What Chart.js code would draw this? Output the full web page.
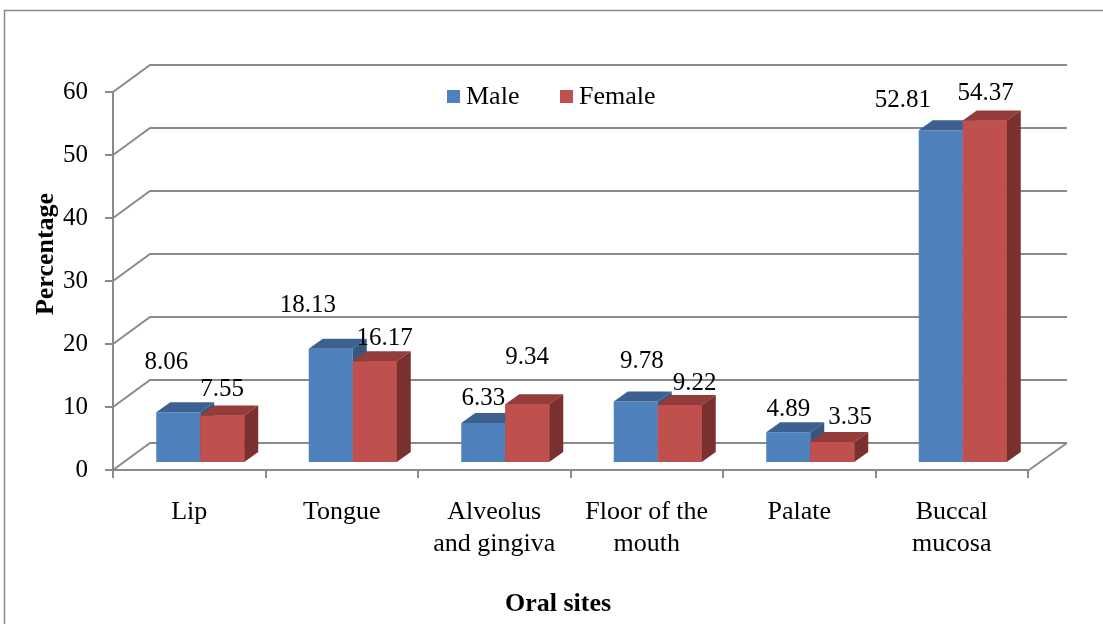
<!DOCTYPE html>
<html>
<head>
<meta charset="utf-8">
<script src="https://cdn.jsdelivr.net/npm/chart.js@4.4.1/dist/chart.umd.min.js"></script>
<style>
  html, body { margin: 0; padding: 0; background: #ffffff; overflow: hidden; }
  #wrap { width: 1103px; height: 624px; position: relative; }
</style>
</head>
<body>
<div id="wrap"><canvas id="c" width="1103" height="624"></canvas></div>
<script>
// ---- data ----
const categories = ['Lip', 'Tongue', ['Alveolus', 'and gingiva'], ['Floor of the', 'mouth'], 'Palate', ['Buccal', 'mucosa']];
const seriesNames = ['Male', 'Female'];
const maleValues = [8.06, 18.13, 6.33, 9.78, 4.89, 52.81];
const femaleValues = [7.55, 16.17, 9.34, 9.22, 3.35, 54.37];
const yTickValues = [0, 10, 20, 30, 40, 50, 60];
const yAxisTitle = 'Percentage';
const xAxisTitle = 'Oral sites';

// ---- styles ----
const FONT = "'Liberation Serif', 'Times New Roman', serif";
const GRID = '#8a8a8a';
const frontColors = ['#4F81BD', '#C0504D'];
const topColors = ['#3C6191', '#943C3A'];
const sideColors = ['#36587F', '#7A302E'];
const PLANE = { dx: 11, dy: -7 };     // bar plane offset from front plane
const BAR_DEPTH = { dx: 14, dy: -10 };
const WALL = { dx: 37, dy: -27 };     // back wall offset from front plane
// data-label nudges [dx, dy] relative to top of each bar (px)
const labelShift = [
  [[-12, -50], [-23, -43], [0, -25], [6, -40], [0, -23], [-38, -30]],
  [[0, -26], [10, -23], [0, -47], [15, -21], [18, -24], [1, -27]]
];

function drawFaces(ctx, bar, i) {
  const p = bar.getProps(['x', 'y', 'base', 'width'], true);
  const l = p.x - p.width / 2, r = p.x + p.width / 2;
  ctx.fillStyle = topColors[i];
  ctx.beginPath();
  ctx.moveTo(l, p.y);
  ctx.lineTo(r, p.y);
  ctx.lineTo(r + BAR_DEPTH.dx, p.y + BAR_DEPTH.dy);
  ctx.lineTo(l + BAR_DEPTH.dx, p.y + BAR_DEPTH.dy);
  ctx.closePath();
  ctx.fill();
  ctx.fillStyle = sideColors[i];
  ctx.beginPath();
  ctx.moveTo(r, p.y);
  ctx.lineTo(r + BAR_DEPTH.dx, p.y + BAR_DEPTH.dy);
  ctx.lineTo(r + BAR_DEPTH.dx, p.base + BAR_DEPTH.dy);
  ctx.lineTo(r, p.base);
  ctx.closePath();
  ctx.fill();
}

const threeD = {
  id: 'threeD',
  beforeDraw(chart) {
    const ctx = chart.ctx;
    ctx.save();
    ctx.strokeStyle = GRID;
    ctx.lineWidth = 1.5;
    ctx.beginPath();
    ctx.moveTo(4.5, 700);
    ctx.lineTo(4.5, 10.5);
    ctx.lineTo(1200, 10.5);
    ctx.stroke();
    ctx.restore();
  },
  beforeDatasetsDraw(chart) {
    const ctx = chart.ctx;
    const ys = chart.scales.y, a = chart.chartArea;
    ctx.save();
    ctx.strokeStyle = GRID;
    ctx.lineWidth = 2;
    yTickValues.forEach(v => {
      const yF = ys.getPixelForValue(v);
      ctx.beginPath();
      ctx.moveTo(a.left, yF);
      ctx.lineTo(a.left + WALL.dx, yF + WALL.dy);
      ctx.lineTo(a.right + 2 + WALL.dx, yF + WALL.dy);
      ctx.stroke();
    });
    ctx.beginPath();
    ctx.moveTo(a.right + 1, a.bottom);
    ctx.lineTo(a.right + 2 + WALL.dx, a.bottom + WALL.dy);
    ctx.stroke();
    ctx.restore();
    ctx.save();
    ctx.translate(PLANE.dx, PLANE.dy);
  },
  afterDatasetsDraw(chart) {
    const ctx = chart.ctx;
    const metas = chart.data.datasets.map((d, i) => chart.getDatasetMeta(i));
    metas[0].data.forEach((_, j) => {
      metas.forEach((meta, i) => {
        const bar = meta.data[j];
        if (i > 0) bar.draw(ctx);   // front face of the next bar hides the previous side
        drawFaces(ctx, bar, i);
      });
    });
    ctx.restore();
  },
  afterDraw(chart) {
    const ctx = chart.ctx;
    ctx.save();
    ctx.fillStyle = '#000';
    ctx.font = '25px ' + FONT;
    ctx.textAlign = 'center';
    ctx.textBaseline = 'middle';
    chart.data.datasets.forEach((ds, i) => {
      const meta = chart.getDatasetMeta(i);
      meta.data.forEach((bar, j) => {
        const s = labelShift[i][j];
        ctx.fillText(ds.data[j].toFixed(2), bar.x + PLANE.dx + s[0], bar.y + PLANE.dy + s[1]);
      });
    });
    ctx.font = '26px ' + FONT;
    ctx.textAlign = 'left';
    const legendX = [447, 560];
    chart.data.datasets.forEach((ds, i) => {
      ctx.fillStyle = ds.backgroundColor;
      ctx.fillRect(legendX[i], 90, 13, 13);
      ctx.fillStyle = '#000';
      ctx.fillText(ds.label, legendX[i] + 19, 97);
    });
    ctx.font = 'bold 26px ' + FONT;
    ctx.textAlign = 'center';
    ctx.fillText(xAxisTitle, 558, 604);
    ctx.translate(46, 254);
    ctx.rotate(-Math.PI / 2);
    ctx.fillText(yAxisTitle, 0, 0);
    ctx.restore();
  }
};

new Chart(document.getElementById('c'), {
  type: 'bar',
  data: {
    labels: categories,
    datasets: [
      { label: seriesNames[0], data: maleValues, backgroundColor: frontColors[0], borderWidth: 0, clip: false },
      { label: seriesNames[1], data: femaleValues, backgroundColor: frontColors[1], borderWidth: 0, clip: false }
    ]
  },
  options: {
    responsive: false,
    animation: false,
    devicePixelRatio: 1,
    layout: { padding: { left: 0, top: 92, right: 75, bottom: 0 } },
    datasets: { bar: { categoryPercentage: 0.577, barPercentage: 1 } },
    plugins: { legend: { display: false }, tooltip: { enabled: false } },
    scales: {
      x: {
        offset: true,
        grid: { display: true, drawOnChartArea: false, drawTicks: true, tickLength: 8, color: GRID, lineWidth: 2, offset: true },
        border: { display: true, color: GRID, width: 2 },
        ticks: { font: { family: FONT, size: 26, lineHeight: 1.2 }, color: '#000', padding: 19, maxRotation: 0, autoSkip: false },
        afterFit: s => { s.height = 154; }
      },
      y: {
        min: 0, max: 60,
        afterBuildTicks: s => { s.ticks = yTickValues.map(v => ({ value: v })); },
        grid: { display: true, drawOnChartArea: false, drawTicks: true, tickLength: 8, color: GRID, lineWidth: 2 },
        border: { display: true, color: GRID, width: 2 },
        ticks: { font: { family: FONT, size: 25 }, color: '#000', padding: 17 },
        afterFit: s => { s.width = 113; }
      }
    }
  },
  plugins: [threeD]
});
</script>
</body>
</html>
